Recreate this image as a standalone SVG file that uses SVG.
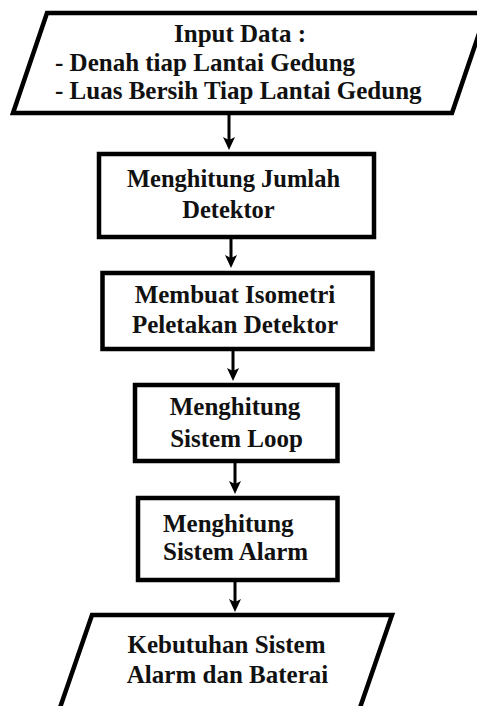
<svg xmlns="http://www.w3.org/2000/svg" width="477" height="706" viewBox="0 0 477 706">
<style>
.shape{fill:#fff;stroke:#000;stroke-width:4.5;stroke-linejoin:miter}
.conn{stroke:#000;stroke-width:3;fill:none}
</style>
<defs>
<marker id="arr" viewBox="0 0 13 12" refX="9" refY="6" markerWidth="13" markerHeight="12" markerUnits="userSpaceOnUse" orient="auto">
<path d="M0,0 L13,6 L0,12 L3,6 z" fill="#000"/>
</marker>
</defs>
<rect width="477" height="706" fill="#fff"/>
<g id="connectors">
<line class="conn" x1="229" y1="113" x2="229" y2="146" marker-end="url(#arr)"/>
<line class="conn" x1="231" y1="237" x2="231" y2="264" marker-end="url(#arr)"/>
<line class="conn" x1="233" y1="349" x2="233" y2="377" marker-end="url(#arr)"/>
<line class="conn" x1="235" y1="461" x2="235" y2="490" marker-end="url(#arr)"/>
<line class="conn" x1="235" y1="580" x2="235" y2="608" marker-end="url(#arr)"/>
</g>
<g font-family="Liberation Serif, Times New Roman, serif" font-weight="bold" font-size="25" fill="#111">
<g id="input">
<polygon class="shape" points="47,13 486,13 452,113 13,113"/>
<text x="240" y="42" text-anchor="middle">Input Data :</text>
<text x="55" y="71">- Denah tiap Lantai Gedung</text>
<text x="55" y="99">- Luas Bersih Tiap Lantai Gedung</text>
</g>
<g id="jumlah">
<rect class="shape" x="99" y="154" width="275" height="83"/>
<text x="233.5" y="187" text-anchor="middle" font-size="24.5">Menghitung Jumlah</text>
<text x="228.5" y="218" text-anchor="middle" font-size="24.5">Detektor</text>
</g>
<g id="isometri">
<rect class="shape" x="102.5" y="273" width="270" height="76"/>
<text x="235" y="303" text-anchor="middle">Membuat Isometri</text>
<text x="235" y="333" text-anchor="middle">Peletakan Detektor</text>
</g>
<g id="loop">
<rect class="shape" x="135" y="385" width="202.5" height="76"/>
<text x="235" y="415" text-anchor="middle">Menghitung</text>
<text x="236.5" y="447" text-anchor="middle">Sistem Loop</text>
</g>
<g id="alarm">
<rect class="shape" x="138" y="498" width="199.5" height="82"/>
<text x="163" y="532">Menghitung</text>
<text x="163" y="560">Sistem Alarm</text>
</g>
<g id="output">
<polygon class="shape" points="92,615 392,615 358.5,712 58.5,712"/>
<text x="226.5" y="653" text-anchor="middle">Kebutuhan Sistem</text>
<text x="227.5" y="683" text-anchor="middle">Alarm dan Baterai</text>
</g>
</g>
</svg>
